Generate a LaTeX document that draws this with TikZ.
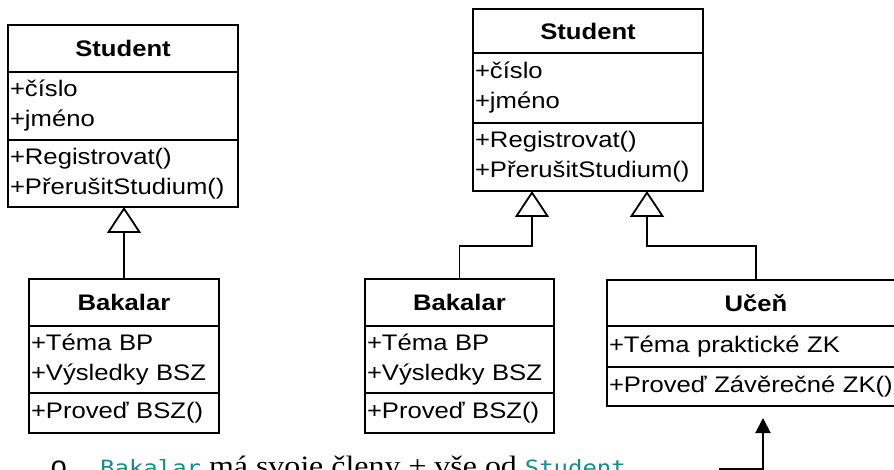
\documentclass[tikz,border=0pt]{standalone}
\usepackage{fontspec}
\setmainfont{Liberation Serif}
\newfontfamily\umlfont[FakeStretch=1.14]{Liberation Sans}
\newfontfamily\codefont[FakeStretch=1.14]{DejaVu Sans Mono}
\newfontfamily\notefont[FakeStretch=1.14]{Liberation Serif}
\newfontfamily\bulletfont{Liberation Mono}
\usetikzlibrary{positioning,arrows.meta}
\definecolor{codeteal}{RGB}{20,140,140}
\newcommand{\codeword}[1]{{\codefont\fontsize{21}{21}\selectfont\color{codeteal}#1}}

\tikzset{
  umlpart/.style={draw, line width=2pt, inner sep=0pt, inner xsep=2pt, outer sep=0pt,
    font=\umlfont\fontsize{22.5}{30}\selectfont},
  umlname/.style={umlpart, font=\umlfont\bfseries\fontsize{22.5}{30}\selectfont},
  umllist/.style={umlpart, align=left},
  inherit/.style={line width=1.2pt,
    -{Triangle[open, length=26pt, width=34pt, line width=1.8pt]}},
}

\begin{document}
\begin{tikzpicture}[x=1pt, y=-1pt]
    \path[use as bounding box] (0,0) rectangle (894,470);
    \clip (0,0) rectangle (894,470);

    % Student (left)
    \node[umlname, minimum width=230pt, minimum height=47pt, anchor=north west]
        (stuA) at (8,25) {Student};
    \node[umllist, text width=226pt, minimum height=68pt, below=0pt of stuA]
        (stuAattr) {+číslo\\+jméno};
    \node[umllist, text width=226pt, minimum height=67pt, below=0pt of stuAattr]
        (stuAop) {+Registrovat()\\+PřerušitStudium()};

    % Bakalar (left)
    \node[umlname, minimum width=190pt, minimum height=47pt, anchor=north west]
        (bakA) at (29,279) {Bakalar};
    \node[umllist, text width=186pt, minimum height=67pt, below=0pt of bakA]
        (bakAattr) {+Téma BP\\+Výsledky BSZ};
    \node[umllist, text width=186pt, minimum height=40pt, below=0pt of bakAattr]
        (bakAop) {+Proveď BSZ()};

    \draw[inherit] (bakA.north) -- (bakA.north |- stuAop.south);

    % Student (right)
    \node[umlname, minimum width=230pt, minimum height=44pt, anchor=north west]
        (stuB) at (473,9) {Student};
    \node[umllist, text width=226pt, minimum height=70pt, below=0pt of stuB]
        (stuBattr) {+číslo\\+jméno};
    \node[umllist, text width=226pt, minimum height=68pt, below=0pt of stuBattr]
        (stuBop) {+Registrovat()\\+PřerušitStudium()};

    % Bakalar (middle)
    \node[umlname, minimum width=189pt, minimum height=47pt, anchor=north west]
        (bakB) at (365,279) {Bakalar};
    \node[umllist, text width=185pt, minimum height=67pt, below=0pt of bakB]
        (bakBattr) {+Téma BP\\+Výsledky BSZ};
    \node[umllist, text width=185pt, minimum height=40pt, below=0pt of bakBattr]
        (bakBop) {+Proveď BSZ()};

    % Učeň
    \node[umlname, minimum width=298pt, minimum height=46pt, anchor=north west]
        (ucen) at (607,280) {Učeň};
    \node[umllist, text width=294pt, minimum height=41pt, below=0pt of ucen]
        (ucenattr) {+Téma praktické ZK};
    \node[umllist, text width=294pt, minimum height=39pt, below=0pt of ucenattr]
        (ucenop) {+Proveď Závěrečné ZK()};

    \draw[inherit] (bakB.north) -- ++(0,-33) -| ([xshift=-56pt]stuBop.south);
    \draw[inherit] (ucen.north) -- ++(0,-34) -| ([xshift=59pt]stuBop.south);

    % Note
    \node[anchor=base west, inner sep=0pt, font=\bulletfont\fontsize{29}{29}\selectfont]
        (bullet) at (50,476) {o};
    \node[anchor=base west, inner sep=0pt, font=\notefont\fontsize{28}{28}\selectfont]
        (note) at (100,475) {\codeword{Bakalar} má svoje členy + vše od \codeword{Student}};

    \coordinate (notetail) at (719,469);
    \coordinate (notetip) at (763,418);
    \draw[line width=2pt, -{Triangle[length=15pt, width=15pt]}] (notetail) -| (notetip);
\end{tikzpicture}
\end{document}
